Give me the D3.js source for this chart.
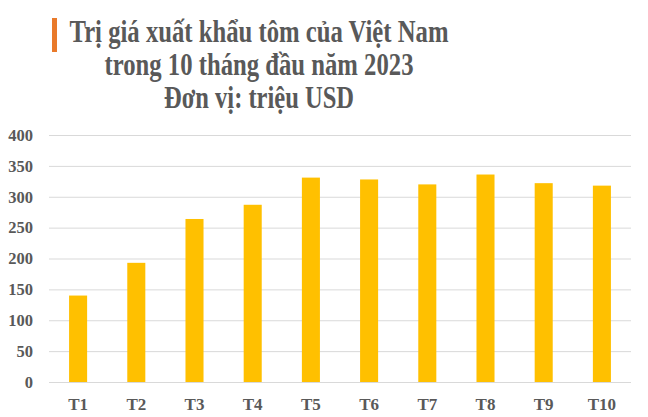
<!DOCTYPE html>
<html>
<head>
<meta charset="utf-8">
<script src="https://cdn.jsdelivr.net/npm/d3@7"></script>
<style>
  html, body { margin: 0; padding: 0; background: #fff; }
  svg { display: block; }
</style>
</head>
<body>
<svg id="chart" width="648" height="417"></svg>
<script>
const titleLines = ["Trị giá xuất khẩu tôm của Việt Nam", "trong 10 tháng đầu năm 2023", "Đơn vị: triệu USD"];
const titleWidths = [379, 309, 190];
const categories = ["T1", "T2", "T3", "T4", "T5", "T6", "T7", "T8", "T9", "T10"];
const values = [140, 193, 264, 287, 331, 328, 320, 336, 322, 318];
const yTicks = [0, 50, 100, 150, 200, 250, 300, 350, 400];

const svg = d3.select("#chart");
const margin = { left: 49, right: 17, top: 135, bottom: 35 };
const W = 648, H = 417;

const x = d3.scaleBand().domain(categories).range([margin.left, W - margin.right]).paddingInner(0.69).paddingOuter(0.345);
const y = d3.scaleLinear().domain([0, 400]).range([382, 135]);

const fontSerif = "'Liberation Serif', 'Times New Roman', serif";
const textColor = "#595959";

// Title
svg.append("rect").attr("x", 52).attr("y", 18).attr("width", 5).attr("height", 34).attr("fill", "#E97A2B");
svg.append("g").selectAll("text").data(titleLines).join("text")
  .attr("x", 259).attr("y", (d, i) => 42 + i * 33)
  .attr("text-anchor", "middle")
  .attr("textLength", (d, i) => titleWidths[i])
  .attr("lengthAdjust", "spacingAndGlyphs")
  .attr("font-family", fontSerif).attr("font-weight", "bold").attr("font-size", 32)
  .attr("fill", textColor)
  .text(d => d);

// Gridlines
const yAxis = d3.axisLeft(y).tickValues(yTicks).tickSize(-(W - margin.right - margin.left)).tickPadding(16);
const gy = svg.append("g").attr("transform", `translate(${margin.left},0)`).call(yAxis);
gy.select(".domain").remove();
gy.selectAll(".tick line").attr("stroke", "#d9d9d9").attr("stroke-width", 1);
gy.selectAll(".tick text").attr("font-family", fontSerif).attr("font-weight", "bold").attr("font-size", 16.5).attr("fill", textColor);

// Bars
svg.append("g").selectAll("rect").data(values).join("rect")
  .attr("x", (d, i) => x(categories[i]))
  .attr("width", x.bandwidth())
  .attr("y", d => y(d))
  .attr("height", d => y(0) - y(d))
  .attr("fill", "#FFC000");

// X axis
const xAxis = d3.axisBottom(x).tickSize(0).tickPadding(16);
const gx = svg.append("g").attr("transform", `translate(0,${y(0)})`).call(xAxis);
gx.select(".domain").remove();
gx.selectAll(".tick text").attr("font-family", fontSerif).attr("font-weight", "bold").attr("font-size", 17).attr("fill", textColor);
</script>
</body>
</html>
